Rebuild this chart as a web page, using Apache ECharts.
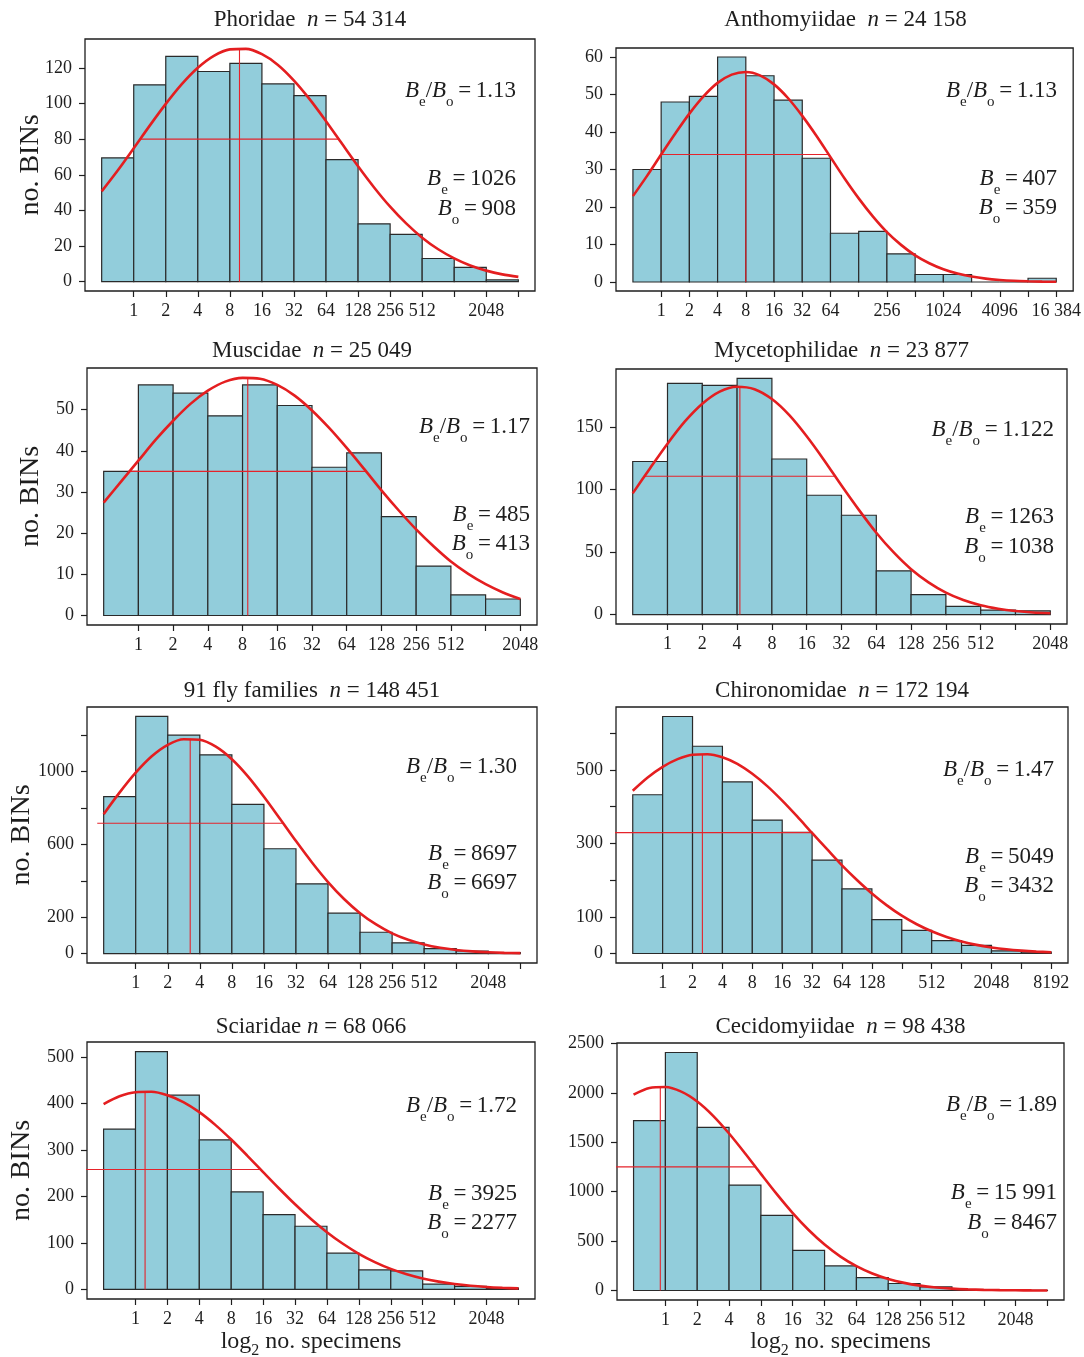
<!DOCTYPE html>
<html><head><meta charset="utf-8">
<script src="https://cdn.jsdelivr.net/npm/echarts@6/dist/echarts.min.js"></script>
<style>html,body{margin:0;padding:0;background:#fff}#c{width:1084px;height:1357px}</style>
</head><body><div id="c"></div>
<script>
// ---------- data ----------
const panelNames = ['Phoridae', 'Anthomyiidae', 'Muscidae', 'Mycetophilidae', '91 fly families', 'Chironomidae', 'Sciaridae', 'Cecidomyiidae'];
const panelN = ['54 314', '24 158', '25 049', '23 877', '148 451', '172 194', '68 066', '98 438'];
const ratioValues = ['1.13', '1.13', '1.17', '1.122', '1.30', '1.47', '1.72', '1.89'];
const beValues = ['1026', '407', '485', '1263', '8697', '5049', '3925', '15 991'];
const boValues = ['908', '359', '413', '1038', '6697', '3432', '2277', '8467'];

// x tick labels at bin edges 1, 2, 3, ... ('' = tick without label)
const labels13 = ['1','2','4','8','16','32','64','128','256','512','','2048',''];
const labels12 = ['1','2','4','8','16','32','64','128','256','512','','2048'];
const labelsAntho = ['1','2','4','8','16','32','64','','256','','1024','','4096','','16 384'];
const labelsChiro = ['1','2','4','8','16','32','64','128','','512','','2048','','8192'];

// fitted curves are read at half-bin steps starting at the left edge of the first bin
const fitStep = 0.5;

const phoridaeBins = [69.5,110.5,126.5,118,122.5,111,104.5,68.5,32.5,26.5,13,8,1];
const phoridaeFit = [50.7,62.4,74.9,87.6,99.8,110.9,120.1,126.8,130.4,130.7,127.7,121.7,112.9,102.2,90.1,77.4,64.8,52.9,42.1,32.7,24.7,18.2,13.1,9.1,6.2,4.1,2.7];
const phoridaeMode = [4.3, 131];
const phoridaeSpread = [1.18, 7.42, 80];
const phoridaeYTicks = [0,20,40,60,80,100,120];
const phoridaeYLabels = [0,20,40,60,80,100,120];

const anthomyiidaeBins = [30,48,49.5,60,55,48.5,33,13,13.5,7.5,2,2,0,0,1];
const anthomyiidaeFit = [22.9,28.3,34.0,39.6,44.9,49.5,53.1,55.3,56.0,55.1,52.7,49.0,44.3,39.0,33.3,27.6,22.3,17.5,13.3,9.9,7.1,5.0,3.4,2.25,1.45,0.9,0.55,0.32,0.19,0.1,0.06];
const anthomyiidaeMode = [4.0, 56];
const anthomyiidaeSpread = [1.0, 6.94, 34];
const anthomyiidaeYTicks = [0,10,20,30,40,50,60];
const anthomyiidaeYLabels = [0,10,20,30,40,50,60];

const muscidaeBins = [35,56,54,48.5,56,51,36,39.5,24,12,5,4];
const muscidaeFit = [27.4,32.5,37.6,42.7,47.3,51.4,54.6,56.8,57.7,57.5,56.0,53.4,49.8,45.5,40.7,35.6,30.4,25.5,20.9,16.8,13.1,10.1,7.6,5.6,4.0];
const muscidaeMode = [4.15, 57.8];
const muscidaeSpread = [0.75, 7.55, 35];
const muscidaeYTicks = [0,10,20,30,40,50];
const muscidaeYLabels = [0,10,20,30,40,50];

const mycetophilidaeBins = [122.5,185,183.5,189,124.5,95.5,79.5,35,16,6.5,3.5,3];
const mycetophilidaeFit = [97,117.2,136.8,154.6,168.8,178.5,182.4,180.4,172.5,159.6,142.7,123.6,103.3,83.8,65.5,49.7,36.3,25.8,17.6,11.7,7.5,4.7,2.8,1.6,1.1];
const mycetophilidaeMode = [3.08, 182.5];
const mycetophilidaeSpread = [0.34, 5.82, 110.7];
const mycetophilidaeYTicks = [0,50,100,150];
const mycetophilidaeYLabels = [0,50,100,150];

const flyBins = [862,1303,1200,1092,820,576,383,222,117,59,27,14,5];
const flyFit = [766,885.6,994,1084,1147,1178,1175,1137,1068,974,862,741,618,500.5,393,300,222,159.8,111,75.6,49.6,31.7,19.7,11.8,6.9,3.9,2.1];
const flyMode = [2.7, 1181];
const flySpread = [-0.2, 5.6, 716];
const flyYTicks = [0,200,400,600,800,1000,1200];
const flyYLabels = [0,200,600,1000];

const chironomidaeBins = [432,645,564,467,363,330,254,176,92,63,35,22,7,4];
const chironomidaeFit = [443,479,508,529,541,542.4,534,516,489,455.5,416,373,328,283.8,240,200.2,163.5,131.1,103,79.7,60.5,45,32.8,23.5,16.6,11.4,7.8,5.2,3.4];
const chironomidaeMode = [2.33, 543];
const chironomidaeSpread = [-1.33, 5.99, 329];
const chironomidaeYTicks = [0,100,200,300,400,500,600];
const chironomidaeYLabels = [0,100,300,500];

const sciaridaeBins = [345,512,418,322,210,161,136,78,42,40,11.5,6.5,3];
const sciaridaeFit = [399,415.7,424.5,425.4,418,403.2,381.5,354.2,322.6,288.2,252.6,217.3,183.3,151.8,123.3,98.3,76.8,59,44.3,32.8,23.7,16.9,11.7,8.0,5.4,3.6,2.3];
const sciaridaeMode = [1.3, 426];
const sciaridaeSpread = [-2.32, 4.92, 258];
const sciaridaeYTicks = [0,100,200,300,400,500];
const sciaridaeYLabels = [0,100,200,300,400,500];

const cecidomyiidaeBins = [1720,2409,1652,1067,760,407,249,131,71,37,10,5,2];
const cecidomyiidaeFit = [1983,2050,2060,2013,1913,1768,1589,1389,1180,975,783.5,612,465,343.7,247,172.6,117,77.4,49.8,31.1,19,11.2,6.4,3.6,2,1.0,0.5];
const cecidomyiidaeMode = [0.84, 2063];
const cecidomyiidaeSpread = [-2.15, 3.83, 1251];
const cecidomyiidaeYTicks = [0,500,1000,1500,2000,2500];
const cecidomyiidaeYLabels = [0,500,1000,1500,2000,2500];

// ---------- layout (positions / styles only) ----------
const F = "'Liberation Serif','Times New Roman',serif";
const INK = '#1e1e1e';
const panels = [
  {bins: phoridaeBins, fit: phoridaeFit, mode: phoridaeMode, spread: phoridaeSpread, xl: labels13, yt: phoridaeYTicks, yl: phoridaeYLabels,
   g: [85, 39, 450, 252], xr: [-0.52, 13.52], yr: [-5.24, 136.24], ty: 20, ax: 516, ay: [91, 179, 209]},
  {bins: anthomyiidaeBins, fit: anthomyiidaeFit, mode: anthomyiidaeMode, spread: anthomyiidaeSpread, xl: labelsAntho, yt: anthomyiidaeYTicks, yl: anthomyiidaeYLabels,
   g: [616, 48, 459, 243], xr: [-0.6, 15.6], yr: [-2.4, 62.4], ty: 20, ax: 1057, ay: [91, 179, 208]},
  {bins: muscidaeBins, fit: muscidaeFit, mode: muscidaeMode, spread: muscidaeSpread, xl: labels12, yt: muscidaeYTicks, yl: muscidaeYLabels,
   g: [87, 368, 450, 257], xr: [-0.48, 12.48], yr: [-2.31, 60.11], ty: 351, ax: 530, ay: [427, 515, 544]},
  {bins: mycetophilidaeBins, fit: mycetophilidaeFit, mode: mycetophilidaeMode, spread: mycetophilidaeSpread, xl: labels12, yt: mycetophilidaeYTicks, yl: mycetophilidaeYLabels,
   g: [616, 369, 451, 255], xr: [-0.48, 12.48], yr: [-7.56, 196.56], ty: 351, ax: 1054, ay: [430, 517, 547]},
  {bins: flyBins, fit: flyFit, mode: flyMode, spread: flySpread, xl: labels13, yt: flyYTicks, yl: flyYLabels,
   g: [87, 707, 450, 256], xr: [-0.52, 13.52], yr: [-52, 1355], ty: 691, ax: 517, ay: [767, 854, 883]},
  {bins: chironomidaeBins, fit: chironomidaeFit, mode: chironomidaeMode, spread: chironomidaeSpread, xl: labelsChiro, yt: chironomidaeYTicks, yl: chironomidaeYLabels,
   g: [616, 707, 452, 256], xr: [-0.56, 14.56], yr: [-25.8, 670.8], ty: 691, ax: 1054, ay: [770, 857, 886]},
  {bins: sciaridaeBins, fit: sciaridaeFit, mode: sciaridaeMode, spread: sciaridaeSpread, xl: labels13, yt: sciaridaeYTicks, yl: sciaridaeYLabels,
   g: [87, 1042, 448, 257], xr: [-0.52, 13.52], yr: [-20.5, 532.5], ty: 1027, ax: 517, ay: [1106, 1194, 1223]},
  {bins: cecidomyiidaeBins, fit: cecidomyiidaeFit, mode: cecidomyiidaeMode, spread: cecidomyiidaeSpread, xl: labels13, yt: cecidomyiidaeYTicks, yl: cecidomyiidaeYLabels,
   g: [617, 1043, 447, 257], xr: [-0.52, 13.52], yr: [-96, 2505], ty: 1027, ax: 1057, ay: [1105, 1193, 1223]}
];
const titleGap = ['  ', '  ', '  ', '  ', '  ', '  ', ' ', '  '];
const yNameX = [31, 31, 22, 22];

const grids = [], xAxes = [], yAxes = [], series = [], graphics = [];
const richAnn = {
  i: {fontFamily: F, fontStyle: 'italic', fontSize: 23, lineHeight: 34, fill: INK},
  r: {fontFamily: F, fontSize: 23, lineHeight: 34, fill: INK},
  s: {fontFamily: F, fontSize: 15, lineHeight: 15, padding: [22, 0, 0, 0], fill: INK}
};
const richTitle = {
  i: {fontFamily: F, fontStyle: 'italic', fontSize: 23, lineHeight: 28, fill: INK},
  r: {fontFamily: F, fontSize: 23, lineHeight: 28, fill: INK}
};

panels.forEach((p, k) => {
  const [l, t, w, h] = p.g;
  grids.push({left: l, top: t, width: w, height: h, show: true, borderColor: INK, borderWidth: 1.3,
              backgroundColor: 'rgba(0,0,0,0)', containLabel: false});
  const tickPos = p.xl.map((s, i) => i + 1);
  const labPos = tickPos.filter((v, i) => p.xl[i] !== '');
  const xl = p.xl;
  xAxes.push({type: 'value', gridIndex: k, min: p.xr[0], max: p.xr[1], position: 'bottom',
    axisLine: {show: false, onZero: false}, splitLine: {show: false},
    axisTick: {show: true, inside: false, length: 6, lineStyle: {color: INK, width: 1.2}, customValues: tickPos},
    axisLabel: {show: true, customValues: labPos, formatter: v => xl[Math.round(v) - 1], margin: 11,
                fontFamily: F, fontSize: 18, color: INK, hideOverlap: false}});
  yAxes.push({type: 'value', gridIndex: k, min: p.yr[0], max: p.yr[1], position: 'left',
    axisLine: {show: false, onZero: false}, splitLine: {show: false},
    axisTick: {show: true, inside: false, length: 6, lineStyle: {color: INK, width: 1.2}, customValues: p.yt},
    axisLabel: {show: true, customValues: p.yl, formatter: v => String(v), margin: 13,
                fontFamily: F, fontSize: 18, color: INK, hideOverlap: false}});

  series.push({type: 'custom', xAxisIndex: k, yAxisIndex: k, z: 2,
    data: p.bins.map((v, i) => [i, v]),
    renderItem: (params, api) => {
      const x0 = api.value(0), v = api.value(1);
      const a = api.coord([x0, 0]), b = api.coord([x0 + 1, v]);
      return {type: 'rect', shape: {x: a[0], y: b[1], width: b[0] - a[0], height: a[1] - b[1]},
              style: {fill: '#92CDDB', stroke: '#2a2a2a', lineWidth: 1.2}};
    }});
  series.push({type: 'line', xAxisIndex: k, yAxisIndex: k, z: 4, symbol: 'none', silent: true,
    data: [[p.mode[0], 0], [p.mode[0], p.mode[1]]], lineStyle: {color: '#E5232B', width: 1.1}});
  series.push({type: 'line', xAxisIndex: k, yAxisIndex: k, z: 4, symbol: 'none', silent: true,
    data: [[p.spread[0], p.spread[2]], [p.spread[1], p.spread[2]]], lineStyle: {color: '#E5232B', width: 1.1}});
  series.push({type: 'line', xAxisIndex: k, yAxisIndex: k, z: 5, symbol: 'none', silent: true, smooth: 0.3,
    data: p.fit.map((v, i) => [i * fitStep, v]), lineStyle: {color: '#E41E20', width: 2.6}});

  const cx = l + w / 2;
  graphics.push({type: 'text', x: cx, y: p.ty, style: {
    text: '{r|' + panelNames[k] + titleGap[k] + '}{i|n}{r| = ' + panelN[k] + '}', rich: richTitle,
    align: 'center', verticalAlign: 'middle'}});
  const ann = [
    '{i|B}{s|e}{r|/}{i|B}{s|o}{r|\u2009=\u2009' + ratioValues[k] + '}',
    '{i|B}{s|e}{r|\u2009=\u2009' + beValues[k] + '}',
    '{i|B}{s|o}{r|\u2009=\u2009' + boValues[k] + '}'
  ];
  ann.forEach((txt, j) => graphics.push({type: 'text', x: p.ax, y: p.ay[j], style: {
    text: txt, rich: richAnn, align: 'right', verticalAlign: 'middle'}}));
  if (k % 2 === 0) {
    graphics.push({type: 'text', x: yNameX[k / 2], y: t + h / 2, rotation: Math.PI / 2, style: {
      text: 'no. BINs', fontFamily: F, fontSize: 28, fill: INK, align: 'center', verticalAlign: 'middle'}});
  }
  if (k >= 6) {
    graphics.push({type: 'text', x: cx, y: 1342, style: {
      text: '{r|log}{s|2}{r| no. specimens}', align: 'center', verticalAlign: 'middle',
      rich: {r: {fontFamily: F, fontSize: 24, lineHeight: 32, fill: INK},
             s: {fontFamily: F, fontSize: 16, lineHeight: 16, padding: [18, 0, 0, 0], fill: INK}}}});
  }
});

const chart = echarts.init(document.getElementById('c'), null, {renderer: 'canvas'});
chart.setOption({animation: false, backgroundColor: '#fff', grid: grids, xAxis: xAxes, yAxis: yAxes, series: series, graphic: graphics});
</script></body></html>
